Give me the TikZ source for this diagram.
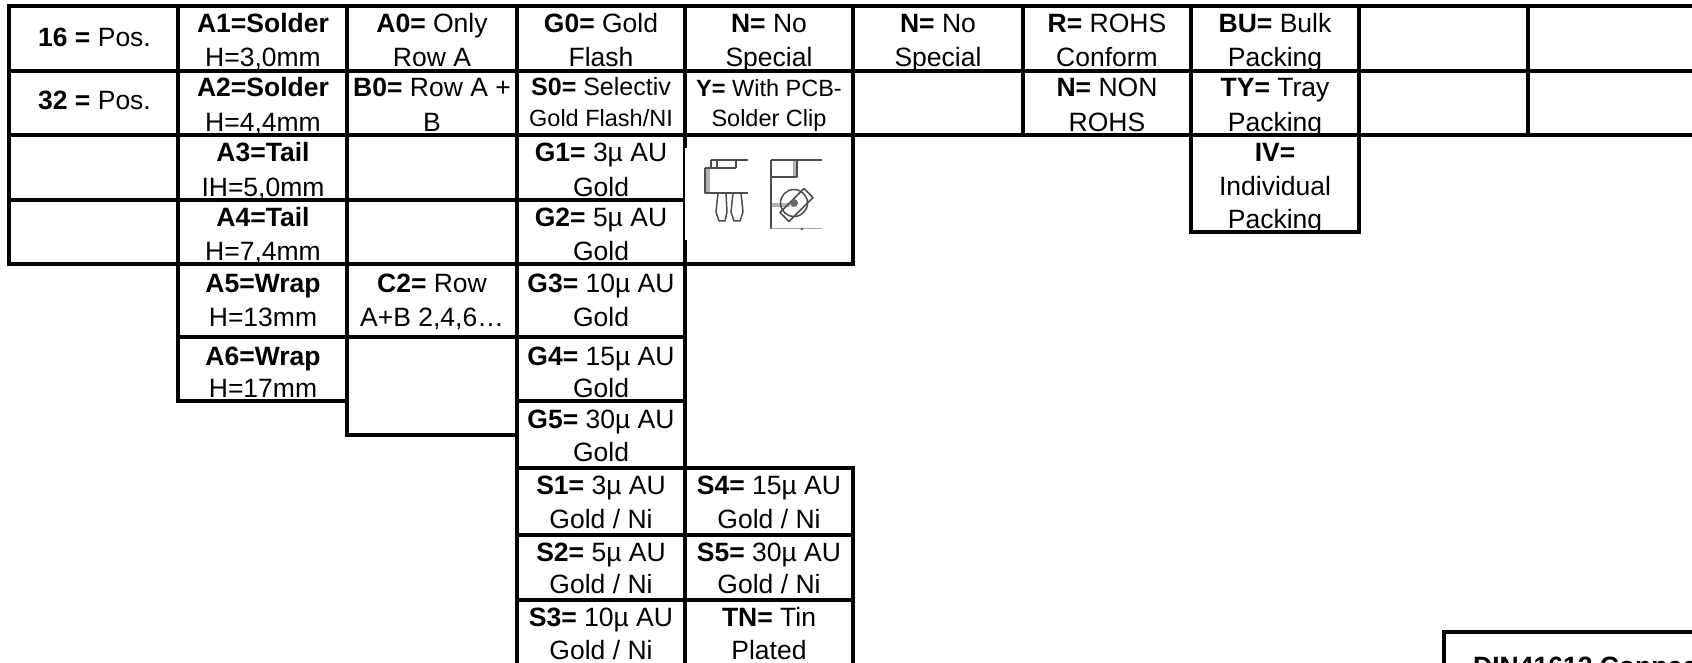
\documentclass[tikz,border=0pt]{standalone}
\usepackage{fontspec}
\setmainfont{Liberation Sans}
\tikzset{
  rule/.style={black,line width=3.3pt,line cap=rect},
  lbl/.style={anchor=base,inner sep=0pt,font=\fontsize{26.5}{30}\selectfont},
  midlbl/.style={anchor=base,inner sep=0pt,font=\fontsize{25}{29}\selectfont},
  smalllbl/.style={anchor=base,inner sep=0pt,font=\fontsize{23.5}{27}\selectfont},
  icon/.style={draw=black!70,line width=1.5pt,line join=round},
  iconlight/.style={draw=black!35,line width=1pt},
  iconband/.style={draw=black!30,line width=4pt},
}
\begin{document}
\begin{tikzpicture}[x=1pt,y=-1pt]
\useasboundingbox (0,0) rectangle (1692,663);
\clip (0,0) rectangle (1692,663);
\fill[white] (0,0) rectangle (1692,663);
% column 1
\node[lbl] (p16) at (94.5,47) {\textbf{16 =} Pos.};
\node[lbl] (p32) at (94.5,110) {\textbf{32 =} Pos.};
% column 2
\node[lbl] (a1a) at (263,33) {\textbf{A1=Solder}};
\node[lbl] (a1b) at (263,67) {H=3,0mm};
\node[lbl] (a2a) at (263,97) {\textbf{A2=Solder}};
\node[lbl] (a2b) at (263,132) {H=4,4mm};
\node[lbl] (a3a) at (263,162) {\textbf{A3=Tail}};
\node[lbl] (a3b) at (263,197) {IH=5,0mm};
\node[lbl] (a4a) at (263,227) {\textbf{A4=Tail}};
\node[lbl] (a4b) at (263,260) {H=7,4mm};
\node[lbl] (a5a) at (263,292) {\textbf{A5=Wrap}};
\node[lbl] (a5b) at (263,326) {H=13mm};
\node[lbl] (a6a) at (263,365) {\textbf{A6=Wrap}};
\node[lbl] (a6b) at (263,397) {H=17mm};
% column 3
\node[lbl] (r0a) at (432,33) {\textbf{A0=} Only};
\node[lbl] (r0b) at (432,67) {Row A};
\node[lbl] (r1a) at (432,97) {\textbf{B0=} Row A +};
\node[lbl] (r1b) at (432,132) {B};
\node[lbl] (r2a) at (432,292) {\textbf{C2=} Row};
\node[lbl] (r2b) at (432,326) {A+B 2,4,6…};
% column 4
\node[lbl] (g0a) at (601,33) {\textbf{G0=} Gold};
\node[lbl] (g0b) at (601,67) {Flash};
\node[midlbl] (s0a) at (601,96) {\textbf{S0=} Selectiv};
\node[smalllbl] (s0b) at (601,127) {Gold Flash/NI};
\node[lbl] (g1a) at (601,162) {\textbf{G1=} 3µ AU};
\node[lbl] (g1b) at (601,197) {Gold};
\node[lbl] (g2a) at (601,227) {\textbf{G2=} 5µ AU};
\node[lbl] (g2b) at (601,260) {Gold};
\node[lbl] (g3a) at (601,292) {\textbf{G3=} 10µ AU};
\node[lbl] (g3b) at (601,326) {Gold};
\node[lbl] (g4a) at (601,365) {\textbf{G4=} 15µ AU};
\node[lbl] (g4b) at (601,397) {Gold};
\node[lbl] (g5a) at (601,428) {\textbf{G5=} 30µ AU};
\node[lbl] (g5b) at (601,461) {Gold};
\node[lbl] (s1a) at (601,494) {\textbf{S1=} 3µ AU};
\node[lbl] (s1b) at (601,528) {Gold / Ni};
\node[lbl] (s2a) at (601,561) {\textbf{S2=} 5µ AU};
\node[lbl] (s2b) at (601,593) {Gold / Ni};
\node[lbl] (s3a) at (601,626) {\textbf{S3=} 10µ AU};
\node[lbl] (s3b) at (601,659) {Gold / Ni};
% column 5
\node[lbl] (n1a) at (769,33) {\textbf{N=} No};
\node[lbl] (n1b) at (769,67) {Special};
\node[smalllbl] (ya) at (769,97) {\textbf{Y=} With PCB-};
\node[smalllbl] (yb) at (769,127) {Solder Clip};
\node[lbl] (s4a) at (769,494) {\textbf{S4=} 15µ AU};
\node[lbl] (s4b) at (769,528) {Gold / Ni};
\node[lbl] (s5a) at (769,561) {\textbf{S5=} 30µ AU};
\node[lbl] (s5b) at (769,593) {Gold / Ni};
\node[lbl] (tna) at (769,626) {\textbf{TN=} Tin};
\node[lbl] (tnb) at (769,659) {Plated};
% column 6
\node[lbl] (n2a) at (938,33) {\textbf{N=} No};
\node[lbl] (n2b) at (938,67) {Special};
% column 7
\node[lbl] (ra) at (1107,33) {\textbf{R=} ROHS};
\node[lbl] (rb) at (1107,67) {Conform};
\node[lbl] (nra) at (1107,97) {\textbf{N=} NON};
\node[lbl] (nrb) at (1107,132) {ROHS};
% column 8
\node[lbl] (bua) at (1275,33) {\textbf{BU=} Bulk};
\node[lbl] (bub) at (1275,67) {Packing};
\node[lbl] (tya) at (1275,97) {\textbf{TY=} Tray};
\node[lbl] (tyb) at (1275,132) {Packing};
\node[lbl] (iva) at (1275,162) {\textbf{IV=}};
\node[lbl] (ivb) at (1275,196) {Individual};
\node[lbl] (ivc) at (1275,229) {Packing};
% title box text
\node[lbl,anchor=base west] (din) at (1473,675) {\textbf{DIN41612 Connec}};
% clip away descenders below the rules
\fill[white] (9,72) rectangle (1692,75);
\fill[white] (9,136) rectangle (1692,139);
\fill[white] (9,201) rectangle (685,203);
\fill[white] (1191,233) rectangle (1360,238);
\fill[white] (178,402) rectangle (347,406);
% rules
\draw[rule] (9,6) -- (1692,6);
\draw[rule] (9,71) -- (1692,71);
\draw[rule] (9,135) -- (1692,135);
\draw[rule] (9,200) -- (685,200);
\draw[rule] (9,264) -- (853,264);
\draw[rule] (178,337) -- (685,337);
\draw[rule] (178,401) -- (347,401);
\draw[rule] (517,401) -- (685,401);
\draw[rule] (347,435) -- (517,435);
\draw[rule] (517,468) -- (853,468);
\draw[rule] (517,535) -- (853,535);
\draw[rule] (517,600) -- (853,600);
\draw[rule] (1191,232) -- (1359,232);
\draw[rule] (9,6) -- (9,264);
\draw[rule] (178,6) -- (178,401);
\draw[rule] (347,6) -- (347,435);
\draw[rule] (517,6) -- (517,663);
\draw[rule] (685,6) -- (685,663);
\draw[rule] (853,6) -- (853,264);
\draw[rule] (853,468) -- (853,663);
\draw[rule] (1023,6) -- (1023,135);
\draw[rule] (1191,6) -- (1191,232);
\draw[rule] (1359,6) -- (1359,232);
\draw[rule] (1528,6) -- (1528,135);
\draw[rule] (1444,632) -- (1692,632);
\draw[rule] (1444,632) -- (1444,663);
% clip picture
\fill[white] (685,148) rectangle (851,240);
\draw[iconband] (707.5,168) -- (707.5,192);
\draw[iconband] (771,205) -- (790,205);
\draw[iconband] (795,160) -- (795,177);
\draw[icon] (711,160) -- (748,160);
\draw[icon] (711,160) -- (711,168) (717,160) -- (717,168) (736,160) -- (736,168);
\draw[icon] (705,168) -- (736,168);
\draw[icon] (705,168) -- (705,193) -- (748,193);
\draw[icon] (718,193) -- (716,212) -- (719,221) -- (725,221) -- (727,212) -- (726,193);
\draw[icon] (733,193) -- (731,212) -- (734,221) -- (740,221) -- (743,212) -- (741,193);
\draw[icon] (771,160) -- (822,160);
\draw[icon] (771,160) -- (771,229);
\draw[icon] (771,177) -- (797,177) -- (797,160);
\draw[iconlight] (771,229) -- (822,229);
\fill[black!70] (801,228) rectangle (803,230);
\draw[icon] (794,203) circle (13.5);
\draw[icon] (780,212.5) -- (804,188.5) -- (813,197.5) -- (789,221.5) -- cycle;
\fill[black!60] (794,203) circle (4);
\end{tikzpicture}
\end{document}
